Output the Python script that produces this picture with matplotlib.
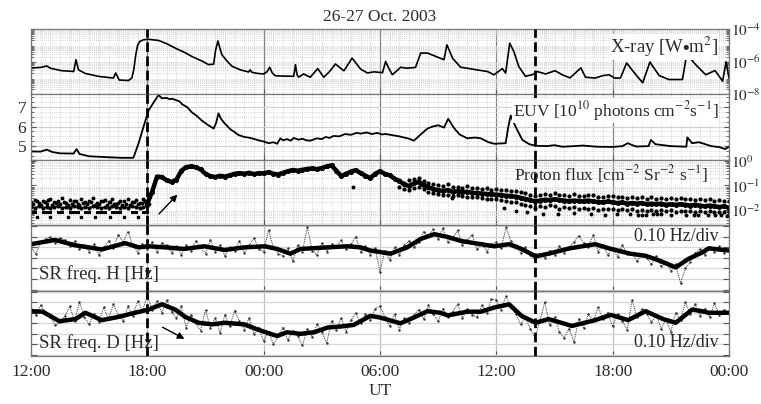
import numpy as np
import matplotlib
matplotlib.use("Agg")
import matplotlib.pyplot as plt
from matplotlib.ticker import FixedLocator, FixedFormatter, MultipleLocator, LogLocator, NullFormatter

plt.rcParams['font.family'] = ['Liberation Serif', 'DejaVu Serif']
plt.rcParams['mathtext.fontset'] = 'stix'

TXT = '#2a2a2a'
nan = np.nan

# x axis: hours since 26 Oct 12:00 UT
time_ticks = [0, 6, 12, 18, 24, 30, 36]
time_labels = ["12:00", "18:00", "00:00", "06:00", "12:00", "18:00", "00:00"]
event_times = [6.0, 26.0]

# X-ray flux, log10 W m^-2
xray_t = [0, 0.5, 0.81, 1.0, 1.58, 2.0, 2.2, 2.32, 2.45, 2.8, 3.5, 4.25, 4.37, 4.55, 5.03, 5.2,
          5.3, 5.4, 5.5, 5.6, 5.8, 6.06, 6.58, 7.0, 7.44, 7.9, 8.3, 8.8, 9.16, 9.42, 9.52, 9.64,
          9.75, 9.85, 10.1, 10.37, 10.8, 11.23, 11.3, 11.4, 11.7, 12.0, 12.17, 12.31, 12.45, 12.6,
          13.0, 13.55, 13.64, 13.72, 13.8, 14.06, 14.4, 14.79, 15.1, 15.4, 15.7, 16.14, 16.56, 17.0,
          17.35, 17.7, 18.13, 18.29, 18.45, 18.64, 19.07, 19.4, 19.83, 20.1, 20.45, 21.3, 21.45,
          21.75, 22.16, 22.5, 23.0, 23.54, 23.88, 24.31, 24.48, 24.69, 24.9, 25.16, 25.5, 25.85,
          26.03, 26.1, 26.54, 27.03, 27.4, 27.8, 28.36, 28.6, 29.1, 29.5, 29.82, 30.1, 30.4, 30.72,
          31.2, 31.55, 31.92, 32.4, 32.9, 33.6, 33.82, 34.28, 34.8, 35.28, 35.67, 35.85, 36.0]
xray_log = [-6.38, -6.35, -6.26, -6.4, -6.55, -6.58, -6.6, -5.88, -6.5, -6.72, -6.9, -7.0, -6.69,
            -7.12, -7.15, -7.0, -6.5, -5.6, -5.0, -4.77, -4.66, -4.63, -4.7, -4.9, -5.17, -5.42,
            -5.68, -5.95, -6.18, -6.15, -5.3, -4.73, -5.2, -5.58, -5.95, -6.28, -6.5, -6.63, -6.5,
            -6.65, -6.72, -6.75, -6.62, -6.34, -6.7, -6.86, -6.88, -6.89, -6.18, -6.8, -6.95, -6.75,
            -6.95, -6.42, -6.95, -6.6, -6.14, -6.56, -5.78, -6.45, -6.69, -6.62, -6.67, -5.98, -6.4,
            -6.8, -6.34, -6.4, -6.35, -5.47, -5.47, -5.88, -4.97, -5.8, -6.34, -6.4, -6.5, -6.6,
            -6.8, -6.42, -6.7, -4.87, -5.37, -6.3, -6.89, -6.8, -6.7, -6.6, -6.75, -6.55, -6.8,
            -6.99, -6.38, -6.95, -7.0, -6.85, -6.8, -7.0, -7.0, -6.08, -6.8, -7.29, -6.02, -6.85,
            -7.09, -7.09, -5.54, -6.18, -6.8, -6.54, -7.19, -6.0, -7.0]

# EUV, 10^10 photons cm^-2 s^-1
euv_t = [0, 0.5, 0.81, 1.1, 1.5, 2.2, 2.35, 2.5, 3.0, 4.0, 4.7, 5.28, 5.55, 5.8, 6.06, 6.32, 6.58,
         6.75, 7.0, 7.15, 7.27, 7.5, 7.65, 7.79, 8.05, 8.3, 8.55, 8.8, 9.1, 9.42, 9.55, 9.67, 9.8,
         10.0, 10.3, 10.5, 10.7, 11.0, 11.2, 11.4, 11.8, 12.0, 12.26, 12.5, 12.7, 12.86, 13.0, 13.2,
         13.4, 13.55, 13.8, 14.0, 14.2, 14.4, 14.75, 15.0, 15.2, 15.4, 15.6, 15.9, 16.2, 16.5, 16.8,
         17.0, 17.3, 17.6, 17.85, 18.1, 18.3, 18.7, 19.0, 19.2, 19.5, 19.75, 20.1, 20.45, 20.7,
         21.0, 21.3, 21.52, 21.8, 22.1, 22.5, 22.9, 23.2, 23.6, 23.9, 24.48, 24.62, 24.74, 25.0,
         25.34, 25.7, 26.03, 26.6, 27.0, 27.4, 28.0, 28.46, 29.2, 30.0, 30.5, 30.77, 31.2, 31.85,
         31.97, 32.2, 33.0, 33.8, 33.85, 34.1, 34.45, 35.1, 35.5, 35.8, 36.0]
euv_val = [4.73, 4.72, 4.82, 4.7, 4.63, 4.62, 4.85, 4.6, 4.48, 4.43, 4.4, 4.4, 5.15, 5.98, 6.82,
           7.23, 7.62, 7.45, 7.47, 7.40, 7.43, 7.35, 7.30, 7.15, 7.0, 6.73, 6.55, 6.32, 6.1, 5.9,
           6.2, 6.68, 6.4, 6.15, 5.85, 5.72, 5.57, 5.47, 5.44, 5.4, 5.28, 5.24, 5.15, 5.2, 5.12,
           5.4, 5.3, 5.36, 5.28, 5.42, 5.33, 5.38, 5.30, 5.28, 5.4, 5.36, 5.47, 5.42, 5.52, 5.5,
           5.62, 5.58, 5.68, 5.64, 5.70, 5.62, 5.68, 5.60, 5.62, 5.55, 5.50, 5.45, 5.38, 5.28, 5.6,
           5.9, 6.0, 6.07, 5.95, 6.4, 5.95, 5.6, 5.4, 5.44, 5.4, 5.2, 5.12, 5.15, 6.0, 6.57, 5.98,
           5.32, 5.1, 5.02, 5.0, 5.05, 4.97, 5.0, 5.03, 4.97, 4.96, 5.0, 5.15, 4.98, 5.0, 5.32,
           5.1, 5.0, 4.97, 5.45, 5.15, 5.2, 5.0, 4.95, 4.85, 4.97]

# Proton flux before the event (rows of quantised counts)
pre_t = [0.0, 0.2, 0.4, 0.6, 0.8, 1.0, 1.2, 1.4, 1.6, 1.8, 2.0, 2.2, 2.4, 2.6, 2.8, 3.0, 3.2, 3.4,
         3.6, 3.8, 4.0, 4.2, 4.4, 4.6, 4.8, 5.0, 5.2, 5.4, 5.6, 5.8, 6.0]
pre_a = [0.021, 0.026, 0.019, 0.024, 0.017, 0.028, 0.020, 0.023, 0.031, 0.019, 0.025, 0.022,
         0.018, 0.027, 0.021, 0.024, 0.030, 0.019, 0.023, 0.026, 0.020, 0.028, 0.018, 0.024,
         0.022, 0.029, 0.021, 0.025, 0.019, 0.027, 0.023]
pre_a2 = [0.017, 0.022, 0.016, 0.020, 0.025, 0.016, 0.019, 0.017, 0.021, 0.016, 0.018, 0.024,
          0.016, 0.019, 0.017, 0.021, 0.016, 0.018, 0.022, 0.016, 0.020, 0.017, 0.019, 0.016,
          0.018, 0.016, 0.021, 0.017, 0.019, 0.022, 0.018]
pre_b = [0.013, 0.012, 0.014, 0.012, 0.013, 0.012, 0.013, 0.014, 0.012, 0.013, 0.012, 0.014,
         0.013, 0.012, 0.013, 0.012, 0.014, 0.013, 0.012, 0.013, 0.012, 0.014, 0.013, 0.012,
         0.013, 0.012, 0.014, 0.013, 0.012, 0.013, 0.014]
pre_c = [0.0085, 0.0085, nan, 0.0085, 0.0085, 0.0085, nan, 0.0085, 0.0085, nan, 0.0085, 0.0085,
         0.0085, nan, 0.0085, 0.0085, nan, 0.0085, 0.0085, 0.0085, nan, 0.0085, 0.0085, 0.0085,
         nan, nan, 0.0085, 0.0085, nan, 0.0085, 0.0085]
pre_d_t = [0.3, 1.0, 1.9, 2.6, 3.3, 4.1, 4.8, 5.5]
pre_d = [0.0052, 0.0052, 0.0052, 0.0052, 0.0052, 0.0052, 0.0052, 0.0052]

# Proton flux after onset, 15 min steps from 18:00
proton_t = [6.0 + 0.25 * i for i in range(121)]
proton_main = [0.018, 0.056, 0.23, 0.22, 0.16, 0.14, 0.17, 0.40, 0.56, 0.60, 0.56, 0.45,
               0.30, 0.24, 0.22, 0.25, 0.23, 0.26, 0.30, 0.32, 0.30, 0.33, 0.29, 0.32,
               0.31, 0.35, 0.30, 0.28, 0.33, 0.38, 0.43, 0.40, 0.44, 0.47, 0.50, 0.46,
               0.52, 0.60, 0.66, 0.40, 0.24, 0.30, 0.37, 0.42, 0.32, 0.25, 0.20, 0.30,
               0.38, 0.30, 0.26, 0.19, 0.15, 0.11, 0.095, 0.12, 0.14, 0.10, 0.085, 0.072,
               0.063, 0.060, 0.065, 0.055, 0.058, 0.052, 0.055, 0.050, 0.049, 0.046, 0.045, 0.043,
               0.042, 0.040, 0.038, 0.036, 0.035, 0.031, 0.028, 0.025, 0.022, 0.024, 0.026, 0.025,
               0.027, 0.025, 0.024, 0.022, 0.024, 0.023, 0.022, 0.024, 0.022, 0.021, 0.020, 0.022,
               0.020, 0.019, 0.020, 0.018, 0.019, 0.018, 0.019, 0.017, 0.018, 0.017, 0.018, 0.016,
               0.017, 0.016, 0.017, 0.016, 0.015, 0.016, 0.015, 0.014, 0.015, 0.014, 0.013, 0.014,
               0.012]
spread_t = [19.0 + 0.25 * i for i in range(69)]
proton_upper = [0.17, 0.13, 0.16, 0.18, 0.21, 0.15, 0.12, 0.11, 0.10, 0.095, 0.11, 0.085,
                0.09, 0.08, 0.095, 0.075, 0.08, 0.07, 0.075, 0.068, 0.07, 0.065, 0.062, 0.058,
                0.06, 0.052, 0.048, 0.042, 0.038, 0.042, 0.046, 0.04, 0.048, 0.04, 0.042, 0.036,
                0.044, 0.038, 0.036, 0.042, 0.04, 0.035, 0.034, 0.038, 0.036, 0.032, 0.035, 0.031,
                0.034, 0.03, 0.033, 0.029, 0.032, 0.029, 0.031, 0.027, 0.03, 0.028, 0.031, 0.027,
                0.028, 0.026, 0.029, 0.025, 0.027, 0.024, 0.026, 0.023, 0.024]
proton_lower = [0.085, 0.07, 0.065, 0.08, 0.09, 0.07, 0.055, 0.05, 0.045, 0.042, 0.04, 0.038,
                0.04, 0.036, 0.034, 0.033, 0.032, 0.03, 0.029, 0.028, 0.027, 0.025, 0.023, 0.021,
                0.02, 0.018, 0.016, 0.014, 0.012, 0.015, 0.013, 0.016, 0.014, 0.011, 0.013, 0.012,
                0.013, 0.0105, 0.012, 0.011, 0.012, 0.0098, 0.011, 0.0105, 0.011, 0.0095, 0.0105,
                0.0098, 0.0105, 0.009, 0.0098, 0.0092, 0.01, 0.0088, 0.0095, 0.009, 0.0095, 0.0085,
                0.0092, 0.0088, 0.009, 0.0082, 0.0088, 0.0085, 0.0088, 0.008, 0.0085, 0.0082,
                0.0082]
outlier_t = [16.6, 21.7, 24.4, 25.0, 25.6, 26.4, 27.2, 28.0, 28.9, 29.6, 30.2, 30.9, 31.3, 31.5,
             31.7, 32.1, 32.3, 32.5, 33.0, 33.8, 34.2, 34.4, 34.9, 35.3, 35.6, 35.9]
outlier_v = [0.09, 0.03, 0.012, 0.009, 0.008, 0.007, 0.0065, 0.0075, 0.0068, 0.0062, 0.007,
             0.0066, 0.0064, 0.0064, 0.0064, 0.0066, 0.0066, 0.0066, 0.0063, 0.0063, 0.0063,
             0.0063, 0.0062, 0.0062, 0.0062, 0.0057]

# Schumann resonance frequency deviations (Hz), raw 15 min samples
raw_t = [0.25 * i for i in range(145)]
h_raw = [0.10, 0.04, 0.15, 0.18, 0.20, 0.14, 0.19, 0.17, 0.11, 0.16, 0.08, 0.12,
         0.06, 0.13, 0.03, 0.10, 0.16, 0.09, 0.22, 0.15, 0.25, 0.12, 0.05, 0.13,
         0.08, 0.15, 0.06, 0.14, 0.12, 0.05, 0.11, 0.03, 0.12, 0.07, 0.16, 0.10,
         0.04, 0.17, 0.06, 0.12, 0.02, 0.10, 0.07, 0.16, 0.05, 0.12, 0.19, 0.08,
         0.06, 0.26, 0.10, 0.04, 0.02, 0.09, -0.03, 0.12, 0.06, 0.29, 0.07, 0.03,
         0.14, 0.06, 0.13, 0.10, 0.17, 0.08, 0.13, 0.20, 0.06, 0.11, 0.03, 0.09,
         -0.13, 0.07, -0.02, 0.10, 0.03, 0.12, 0.16, 0.10, 0.15, 0.25, 0.21, 0.27,
         0.18, 0.28, 0.15, 0.19, 0.26, 0.12, 0.17, 0.22, 0.08, 0.14, 0.06, 0.13,
         0.15, 0.09, 0.29, 0.16, 0.12, 0.05, 0.10, 0.03, -0.03, 0.04, 0.00, 0.07,
         0.03, 0.11, 0.05, 0.10, 0.15, 0.21, 0.14, 0.10, 0.22, 0.06, 0.12, 0.03,
         0.09, 0.01, 0.12, 0.04, 0.05, -0.03, 0.03, 0.00, -0.06, 0.02, -0.08, -0.04,
         -0.12, -0.06, -0.24, -0.10, -0.04, 0.05, 0.08, 0.03, 0.12, 0.06, 0.11, 0.05,
         0.08]
d_raw = [0.14, 0.08, 0.17, 0.10, 0.06, -0.02, 0.01, 0.07, 0.16, 0.02, 0.20, 0.06,
         -0.01, 0.09, 0.01, 0.15, 0.04, 0.18, 0.08, 0.02, 0.16, 0.07, 0.21, 0.12,
         0.26, 0.13, 0.21, 0.10, 0.22, 0.11, 0.05, 0.16, -0.04, 0.08, 0.00, -0.07,
         0.13, -0.04, 0.05, -0.09, 0.08, -0.03, 0.12, 0.02, -0.06, 0.05, -0.10, -0.04,
         -0.17, -0.08, -0.20, -0.12, -0.04, -0.16, -0.07, -0.12, -0.21, -0.05, -0.13, -0.01,
         -0.08, -0.19, 0.02, -0.06, 0.05, -0.08, 0.03, 0.10, 0.00, 0.09, 0.03, 0.14,
         0.16, 0.06, -0.03, 0.09, -0.06, 0.05, 0.00, 0.08, 0.13, 0.04, 0.17, 0.09,
         0.02, 0.14, 0.06, 0.11, 0.18, 0.05, 0.14, 0.08, 0.06, 0.17, 0.10, 0.23,
         0.22, 0.13, 0.26, 0.15, 0.09, -0.01, 0.05, -0.05, -0.14, 0.03, 0.20, -0.02,
         0.06, -0.08, -0.14, -0.05, -0.18, 0.04, -0.04, 0.09, 0.02, 0.15, 0.04, 0.10,
         -0.03, 0.09, 0.02, -0.06, 0.22, 0.06, 0.14, 0.09, 0.01, 0.08, -0.05, 0.04,
         -0.08, 0.10, 0.03, 0.20, 0.09, 0.18, 0.07, 0.14, 0.06, 0.19, 0.08, 0.13,
         0.10]

# smoothed SR frequency traces
h_smooth_t = [0, 1.24, 2.27, 3.65, 4.86, 5.55, 6.06, 6.9, 7.9, 8.95, 9.98, 11, 12.06, 12.69, 13.38,
              13.9, 15.3, 16.3, 17, 17.5, 18.2, 18.55, 19.4, 20.1, 20.8, 21.45, 22.2, 23.2, 23.9,
              24.66, 25.3, 26.03, 26.7, 27.76, 29.1, 29.82, 30.9, 31.7, 32.4, 33.25, 33.9, 34.6,
              34.95, 36]
h_smooth = [0.13, 0.17, 0.12, 0.08, 0.14, 0.10, 0.11, 0.10, 0.085, 0.11, 0.075, 0.10, 0.11, 0.085,
            0.04, 0.085, 0.10, 0.11, 0.10, 0.07, 0.05, 0.04, 0.10, 0.18, 0.225, 0.20, 0.16, 0.13,
            0.11, 0.13, 0.085, 0.015, 0.04, 0.09, 0.13, 0.09, 0.04, 0.02, -0.025, -0.09, -0.01,
            0.05, 0.09, 0.07]
d_smooth_t = [0, 0.6, 1.46, 2.3, 2.8, 3.65, 4.5, 5.36, 6.06, 6.75, 7.44, 7.96, 8.65, 9.33, 10, 11,
              11.7, 12.35, 12.7, 13.2, 13.9, 14.6, 15.3, 16, 16.65, 17.5, 18, 19.05, 19.75, 20.45,
              21.1, 21.5, 22.5, 23.2, 23.9, 24.66, 25.3, 26.03, 26.7, 27.9, 29.1, 29.9, 30.8, 31.7,
              32.6, 33.25, 34.1, 34.6, 34.95, 36]
d_smooth = [0.115, 0.11, 0.02, 0.04, 0.10, 0.03, 0.06, 0.10, 0.13, 0.18, 0.13, 0.06, 0.005,
            -0.01, 0.005, -0.01, -0.06, -0.1, -0.12, -0.085, -0.1, -0.085, -0.04, -0.03, -0.015,
            0.07, 0.055, 0.0, 0.055, 0.115, 0.10, 0.075, 0.11, 0.11, 0.15, 0.18, 0.07, 0.005, 0.04,
            -0.025, 0.03, 0.08, 0.03, 0.115, 0.04, 0.005, 0.13, 0.115, 0.10, 0.10]


fig = plt.figure(figsize=(7.61, 4.04), dpi=100)
gs = fig.add_gridspec(5, 1, left=31/761, right=729/761, top=1-29/404, bottom=1-356/404,
                      hspace=0)
axes = [fig.add_subplot(gs[i]) for i in range(5)]
ax1, ax2, ax3, ax4, ax5 = axes

for i, ax in enumerate(axes):
    ax.set_xlim(0, 36)
    ax.xaxis.set_major_locator(FixedLocator(time_ticks))
    ax.xaxis.set_minor_locator(MultipleLocator(0.5))
    ax.tick_params(which='both', direction='in', top=False, right=True, left=True,
                   colors='#555', labelcolor=TXT, labelsize=12.5)
    ax.tick_params(axis='x', which='minor', length=0)
    ax.tick_params(axis='x', pad=6)
    ax.set_xticklabels([] if i < 4 else time_labels)
    for s in ax.spines.values():
        s.set_color('#777')
        s.set_linewidth(0.9)
    if i < 3:
        ax.grid(which='minor', color='#c9c9c9', ls=(0, (1, 1.5)), lw=0.6)
        ax.grid(which='major', axis='x', color='#808080', lw=0.9)
    else:
        ax.grid(which='major', axis='y', color='#d6d6d6', lw=0.9)
        ax.grid(which='major', axis='x', color='#c0c0c0', lw=0.9)
    ax.set_axisbelow(True)
    for et in event_times:
        ax.axvline(et, color='k', lw=2.0, ls=(0, (3.5, 1.6)), zorder=5)

label_box = dict(facecolor='white', edgecolor='none', pad=0.5)

# X-ray
ax1.plot(xray_t, np.power(10.0, xray_log), color='k', lw=1.2)
ax1.set_yscale('log')
ax1.set_ylim(1e-8, 1e-4)
ax1.yaxis.set_major_locator(FixedLocator([1e-8, 1e-6, 1e-4]))
ax1.yaxis.set_major_formatter(FixedFormatter(['$10^{-8}$', '$10^{-6}$', '$10^{-4}$']))
ax1.yaxis.set_minor_locator(LogLocator(base=10, subs=np.arange(2, 10), numticks=20))
ax1.yaxis.set_minor_formatter(NullFormatter())
ax1.tick_params(axis='y', labelleft=False, labelright=True, labelsize=11, pad=1.5)
ax1.text(0.985, 0.73, 'X-ray [W$\\bullet$m$^{2}$]', transform=ax1.transAxes, ha='right',
         va='center', fontsize=13.5, color=TXT, zorder=6, bbox=label_box)
ax1.set_title('26-27 Oct. 2003', fontsize=12.5, color=TXT, pad=6)

# EUV
ax2.plot(euv_t, euv_val, color='k', lw=1.3)
ax2.set_ylim(4.3, 7.65)
ax2.yaxis.set_major_locator(FixedLocator([5, 6, 7]))
ax2.yaxis.set_minor_locator(MultipleLocator(0.25))
ax2.tick_params(axis='y', labelsize=12.5)
ax2.grid(which='major', axis='y', color='#d0d0d0', lw=0.8)
ax2.text(0.985, 0.75, 'EUV [10$^{10}$ photons cm$^{-2}$s$^{-1}$]', transform=ax2.transAxes,
         ha='right', va='center', fontsize=12.5, color=TXT, zorder=6, bbox=label_box)

# Proton flux
ax3.set_yscale('log')
ax3.set_ylim(10 ** -2.63, 10 ** 0.05)
ax3.plot(pre_t, pre_a, 'o', color='k', ms=1.8)
ax3.plot([t + 0.1 for t in pre_t], pre_a2, 'o', color='k', ms=1.8)
ax3.plot(pre_t, pre_b, 'o-', color='k', ms=2.0, lw=1.0)
ax3.plot(pre_t, pre_c, '-', color='k', lw=2.2)
ax3.plot(pre_d_t, pre_d, 's', color='k', ms=1.6)
ax3.plot(proton_t, proton_main, color='k', lw=3.2)
ax3.plot(proton_t, proton_main, 'o', color='k', ms=2.6)
ax3.plot(spread_t, proton_upper, 'o', color='k', ms=2.0)
ax3.plot(spread_t, proton_lower, 'o', color='k', ms=2.0)
ax3.plot(outlier_t, outlier_v, 'o', color='k', ms=1.8)
ax3.yaxis.set_major_locator(FixedLocator([1e-2, 1e-1, 1e0]))
ax3.yaxis.set_major_formatter(FixedFormatter(['$10^{-2}$', '$10^{-1}$', '$10^{0}$']))
ax3.yaxis.set_minor_locator(LogLocator(base=10, subs=np.arange(2, 10), numticks=20))
ax3.yaxis.set_minor_formatter(NullFormatter())
ax3.tick_params(axis='y', labelleft=False, labelright=True, labelsize=11, pad=1.5)
ax3.text(0.97, 0.78, 'Proton flux [cm$^{-2}$ Sr$^{-2}$ s$^{-1}$]', transform=ax3.transAxes,
         ha='right', va='center', fontsize=12.5, color=TXT, zorder=6)
ax3.annotate('', xy=(7.65, 0.051), xytext=(6.5, 0.0056),
             arrowprops=dict(arrowstyle='-|>', color='k', lw=1.0, mutation_scale=10))

# SR frequencies
for ax, raw, st, sv in [(ax4, h_raw, h_smooth_t, h_smooth), (ax5, d_raw, d_smooth_t, d_smooth)]:
    ax.plot(raw_t, raw, color='#333', lw=0.7, ls=(0, (1, 1)))
    ax.plot(raw_t, raw, '.', color='#333', ms=1.5)
    ax.plot(st, sv, color='k', lw=3.2, solid_capstyle='round')
    ax.set_ylim(-0.31, 0.31)
    ax.yaxis.set_major_locator(MultipleLocator(0.1))
    ax.tick_params(axis='y', labelleft=False, length=4)

ax4.text(0.985, 0.82, '0.10 Hz/div', transform=ax4.transAxes, ha='right', va='center',
         fontsize=13, color=TXT, zorder=6, bbox=label_box)
ax4.text(0.012, 0.26, 'SR freq. H [Hz]', transform=ax4.transAxes, ha='left', va='center',
         fontsize=13.5, color=TXT, zorder=6)
ax5.text(0.985, 0.2, '0.10 Hz/div', transform=ax5.transAxes, ha='right', va='center',
         fontsize=13, color=TXT, zorder=6)
ax5.text(0.012, 0.2, 'SR freq. D [Hz]', transform=ax5.transAxes, ha='left', va='center',
         fontsize=13.5, color=TXT, zorder=6)
ax5.annotate('', xy=(8.04, -0.16), xytext=(6.66, -0.025),
             arrowprops=dict(arrowstyle='-|>', color='k', lw=1.0, mutation_scale=10))
ax5.set_xlabel('UT', fontsize=12.5, color=TXT, labelpad=2)

fig.savefig('out.png', dpi=100)
